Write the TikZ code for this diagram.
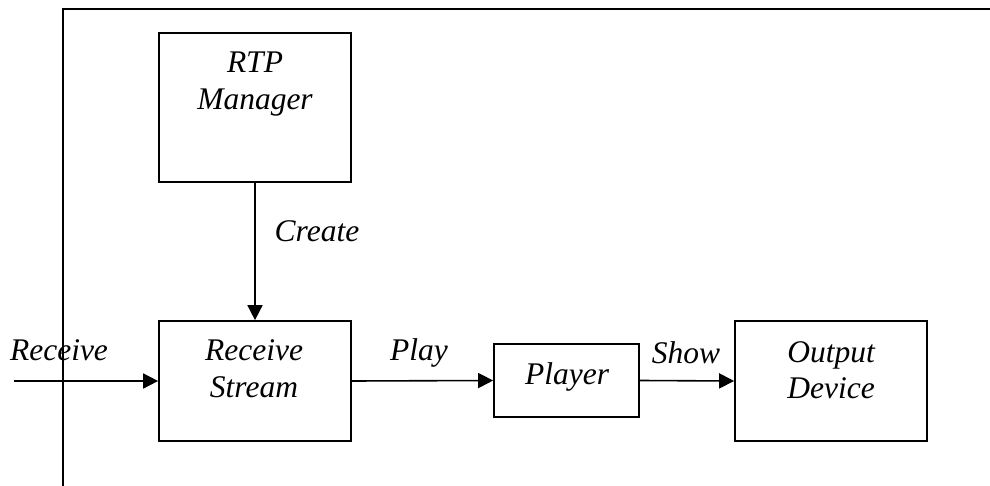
\documentclass[tikz,border=0pt]{standalone}
\usepackage{fontspec}
\setmainfont{Liberation Serif}
\usetikzlibrary{arrows.meta}
\begin{document}
\begin{tikzpicture}[x=1pt,y=-1pt,
  box/.style={draw,line width=1.7pt,inner sep=0pt},
  txt/.style={font=\fontsize{31.5}{36}\selectfont\itshape,inner sep=0pt,anchor=base},
  conn/.style={line width=1.6pt,-{Triangle[length=15pt,width=15pt]}}]
\useasboundingbox (0,0) rectangle (990,486);
% frame
\draw[line width=2.3pt] (990,9) -- (63,9) -- (63,486);
% boxes
\node[box,minimum width=192pt,minimum height=149pt] (rtp) at (255,107.5) {};
\node[box,minimum width=192pt,minimum height=120pt] (rs) at (255,381) {};
\node[box,minimum width=145pt,minimum height=73pt] (pl) at (566.5,380.5) {};
\node[box,minimum width=192pt,minimum height=120pt] (od) at (831,381) {};
% box texts
\node[txt] (t1) at (255,73) {RTP};
\node[txt] (t2) at (255,110) {Manager};
\node[txt] (t3) at (254,360) {Receive};
\node[txt] (t4) at (254,397) {Stream};
\node[txt] (t5) at (567,384) {Player};
\node[txt] (t6) at (831,362) {Output};
\node[txt] (t7) at (831,398) {Device};
% connectors
\coordinate (in) at (14,381);
\draw[conn] (rtp.south) -- (rs.north);
\draw[conn] (in) -- (rs.west);
\draw[conn] (rs.east) -- (pl.west);
\draw[conn] (pl.east) -- (od.west);
% labels
\node[txt] (lc) at (317,242) {Create};
\node[txt] (lr) at (59,360) {Receive};
\node[txt] (lp) at (419,360) {Play};
\node[txt] (ls) at (686,363) {Show};
\end{tikzpicture}
\end{document}
